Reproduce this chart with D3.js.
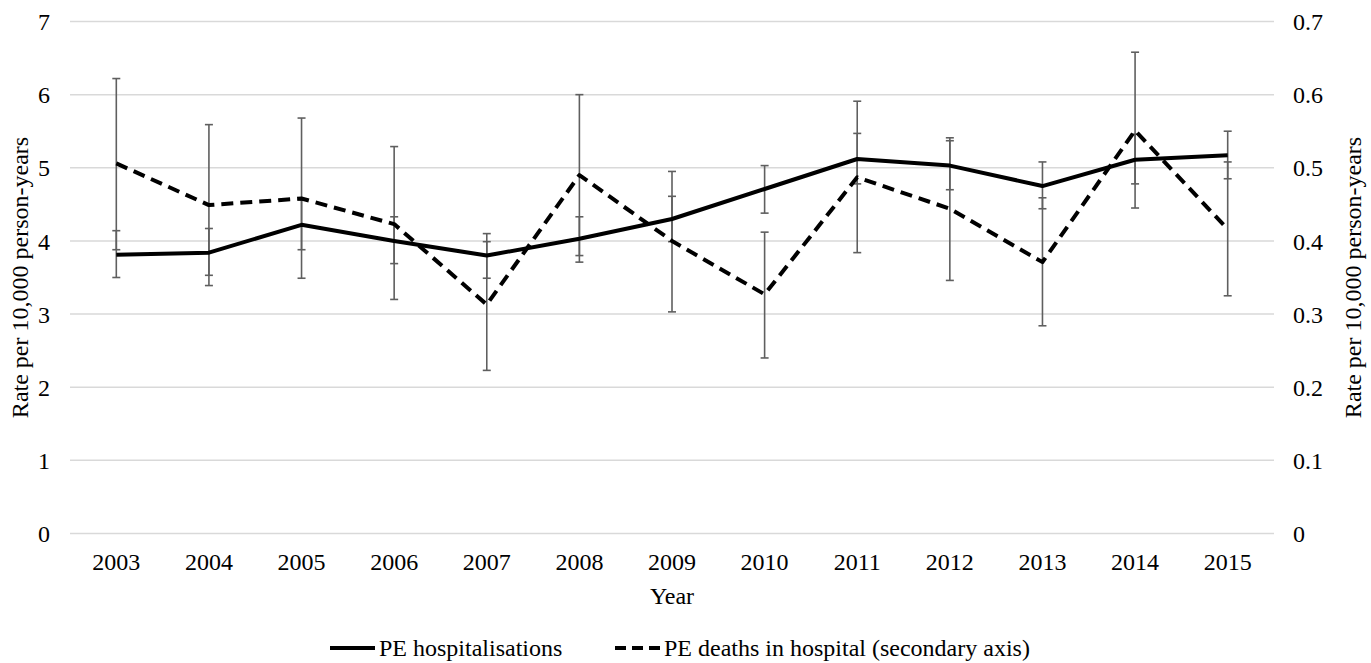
<!DOCTYPE html>
<html>
<head>
<meta charset="utf-8">
<script src="https://cdn.jsdelivr.net/npm/d3@7"></script>
<style>
  html, body { margin: 0; padding: 0; background: #fff; }
  svg text { font-family: "Liberation Serif", "Times New Roman", serif; fill: #000; }
</style>
</head>
<body>
<svg id="chart" width="1371" height="663"></svg>
<script>
// ---- data ----
const years = ["2003","2004","2005","2006","2007","2008","2009","2010","2011","2012","2013","2014","2015"];
const hospitalisations = [3.81, 3.84, 4.22, 4.00, 3.80, 4.03, 4.30, 4.71, 5.12, 5.03, 4.75, 5.11, 5.17];
const hospLower        = [3.50, 3.53, 3.88, 3.69, 3.49, 3.71, 3.99, 4.38, 4.78, 4.70, 4.44, 4.78, 4.85];
const hospUpper        = [4.14, 4.17, 4.56, 4.33, 4.10, 4.33, 4.61, 5.03, 5.47, 5.37, 5.08, 5.46, 5.50];
const deaths      = [0.506, 0.449, 0.458, 0.423, 0.313, 0.490, 0.400, 0.327, 0.487, 0.444, 0.371, 0.551, 0.416];
const deathsLower = [0.388, 0.339, 0.349, 0.320, 0.223, 0.380, 0.303, 0.240, 0.384, 0.346, 0.284, 0.445, 0.325];
const deathsUpper = [0.622, 0.559, 0.568, 0.529, 0.399, 0.600, 0.495, 0.412, 0.591, 0.541, 0.459, 0.658, 0.508];
const leftTicks  = [0, 1, 2, 3, 4, 5, 6, 7];
const rightTicks = [0, 0.1, 0.2, 0.3, 0.4, 0.5, 0.6, 0.7];
const seriesNames = ["PE hospitalisations", "PE deaths in hospital (secondary axis)"];
const xTitle = "Year";
const yTitle = "Rate per 10,000 person-years";

// ---- layout ----
const svg = d3.select("#chart");
const pLeft = 70, pRight = 1274, pTop = 21.5, pBottom = 533.5;

const x = d3.scaleBand().domain(years).range([pLeft, pRight]).padding(0);
const cx = d => x(d) + x.bandwidth() / 2;
const yL = d3.scaleLinear().domain([0, 7]).range([pBottom, pTop]);
const yR = d3.scaleLinear().domain([0, 0.7]).range([pBottom, pTop]);

// gridlines
svg.append("g").selectAll("line").data(leftTicks).join("line")
  .attr("x1", pLeft).attr("x2", pRight)
  .attr("y1", d => yL(d)).attr("y2", d => yL(d))
  .attr("stroke", "#d9d9d9").attr("stroke-width", 1.5);

// left axis labels
const axL = d3.axisLeft(yL).tickValues(leftTicks).tickSize(0).tickPadding(0).tickFormat(d3.format("d"));
const gL = svg.append("g").attr("transform", `translate(${pLeft - 20},0)`).call(axL);
gL.select(".domain").remove();
gL.selectAll("text").attr("font-size", 24).attr("font-family", "Liberation Serif").attr("fill", "#000").attr("dy", "0.34em");

// right axis labels
const axR = d3.axisRight(yR).tickValues(rightTicks).tickSize(0).tickPadding(0).tickFormat(d => d === 0 ? "0" : d3.format(".1f")(d));
const gR = svg.append("g").attr("transform", `translate(${pRight + 19},0)`).call(axR);
gR.select(".domain").remove();
gR.selectAll("text").attr("font-size", 24).attr("font-family", "Liberation Serif").attr("fill", "#000").attr("dy", "0.34em");

// bottom axis labels
const axB = d3.axisBottom(x).tickSize(0).tickPadding(0);
const gB = svg.append("g").attr("transform", `translate(0,${pBottom + 28})`).call(axB);
gB.select(".domain").remove();
gB.selectAll("text").attr("font-size", 24).attr("font-family", "Liberation Serif").attr("fill", "#000").attr("dy", "0.34em");

// axis titles
svg.append("text").attr("x", (pLeft + pRight) / 2).attr("y", 604)
  .attr("text-anchor", "middle").attr("font-size", 24).text(xTitle);
svg.append("text").attr("transform", `translate(28,${(pTop + pBottom) / 2}) rotate(-90)`)
  .attr("text-anchor", "middle").attr("font-size", 24).text(yTitle);
svg.append("text").attr("transform", `translate(1361,${(pTop + pBottom) / 2}) rotate(-90)`)
  .attr("text-anchor", "middle").attr("font-size", 24).text(yTitle);

// error bars
const barColor = "#5f5f5f", capW = 4;
function errorBars(lo, hi, scale) {
  const g = svg.append("g").attr("stroke", barColor).attr("stroke-width", 1.6);
  years.forEach((yr, i) => {
    const xc = cx(yr);
    g.append("line").attr("x1", xc).attr("x2", xc).attr("y1", scale(lo[i])).attr("y2", scale(hi[i]));
    g.append("line").attr("x1", xc - capW).attr("x2", xc + capW).attr("y1", scale(lo[i])).attr("y2", scale(lo[i]));
    g.append("line").attr("x1", xc - capW).attr("x2", xc + capW).attr("y1", scale(hi[i])).attr("y2", scale(hi[i]));
  });
}
errorBars(deathsLower, deathsUpper, yR);
errorBars(hospLower, hospUpper, yL);

// lines
const lineL = d3.line().x((d, i) => cx(years[i])).y(d => yL(d));
const lineR = d3.line().x((d, i) => cx(years[i])).y(d => yR(d));
svg.append("path").datum(deaths).attr("d", lineR)
  .attr("fill", "none").attr("stroke", "#000").attr("stroke-width", 4)
  .attr("stroke-dasharray", "12,7").attr("stroke-linejoin", "round");
svg.append("path").datum(hospitalisations).attr("d", lineL)
  .attr("fill", "none").attr("stroke", "#000").attr("stroke-width", 4)
  .attr("stroke-linejoin", "round");

// legend
const legY = 648;
svg.append("line").attr("x1", 330).attr("x2", 375).attr("y1", legY).attr("y2", legY)
  .attr("stroke", "#000").attr("stroke-width", 4);
svg.append("text").attr("x", 379).attr("y", legY + 8).attr("font-size", 24).text(seriesNames[0]);
svg.append("line").attr("x1", 615).attr("x2", 660).attr("y1", legY).attr("y2", legY)
  .attr("stroke", "#000").attr("stroke-width", 4).attr("stroke-dasharray", "11,6");
svg.append("text").attr("x", 664).attr("y", legY + 8).attr("font-size", 24).text(seriesNames[1]);
</script>
</body>
</html>
